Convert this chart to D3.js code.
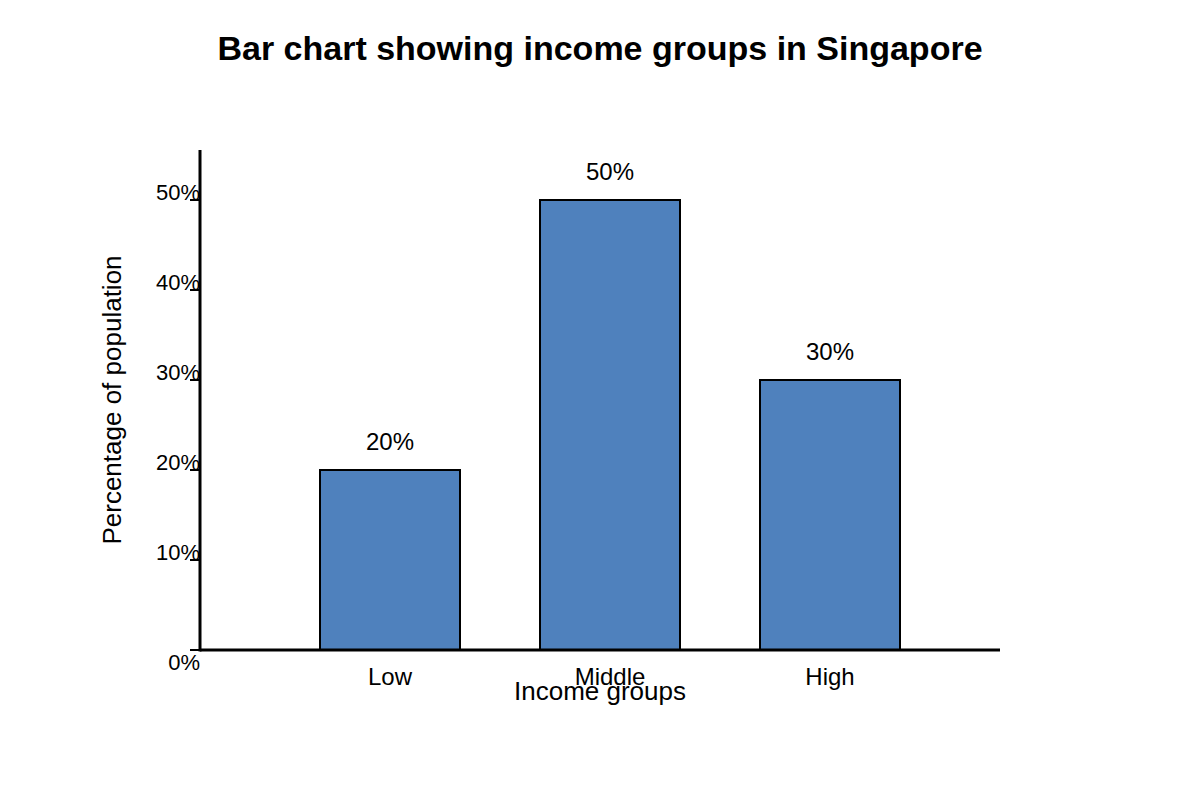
<!DOCTYPE html>
<html>
<head>
<meta charset="utf-8">
<script src="https://cdn.jsdelivr.net/npm/d3@7"></script>
<style>
  html, body { margin: 0; padding: 0; background: #fff; }
  svg { display: block; font-family: "Liberation Sans", Arial, sans-serif; }
</style>
</head>
<body>
<svg id="chart" width="1200" height="800"></svg>
<script>
const categories = ["Low", "Middle", "High"];
const values = [20, 50, 30];
const yTicks = [0, 10, 20, 30, 40, 50];
const titleText = "Bar chart showing income groups in Singapore";
const xTitle = "Income groups";
const yTitle = "Percentage of population";

const svg = d3.select("#chart");
const x0 = 200, x1 = 1000, yBottom = 650, yTop = 150;

const y = d3.scaleLinear().domain([0, 50]).range([yBottom, 200]);
const x = d3.scaleBand().domain(categories).range([280, 940])
  .paddingInner(4 / 11).paddingOuter(2 / 11);

// Title
svg.append("text").attr("x", 600).attr("y", 60).attr("text-anchor", "middle")
  .attr("font-size", 34).attr("font-weight", "bold").attr("fill", "#000")
  .text(titleText);

// Bars
svg.selectAll("rect.bar").data(values).join("rect")
  .attr("class", "bar")
  .attr("x", (d, i) => x(categories[i]))
  .attr("y", d => y(d))
  .attr("width", x.bandwidth())
  .attr("height", d => y(0) - y(d))
  .attr("fill", "#4f81bd").attr("stroke", "#000").attr("stroke-width", 2);

// Bar labels
svg.selectAll("text.val").data(values).join("text")
  .attr("class", "val")
  .attr("x", (d, i) => x(categories[i]) + x.bandwidth() / 2)
  .attr("y", d => y(d) - 20)
  .attr("text-anchor", "middle").attr("font-size", 24).attr("fill", "#000")
  .text(d => d + "%");

// Y ticks
const yt = svg.append("g");
yt.selectAll("line").data(yTicks).join("line")
  .attr("x1", 190).attr("x2", x0)
  .attr("y1", d => y(d)).attr("y2", d => y(d))
  .attr("stroke", "#000").attr("stroke-width", 2);
yt.selectAll("text").data(yTicks).join("text")
  .attr("x", x0).attr("y", d => d === 0 ? y(d) + 20 : y(d))
  .attr("text-anchor", "end").attr("font-size", 22).attr("fill", "#000")
  .text(d => d + "%");

// Axes lines
svg.append("line").attr("x1", x0).attr("x2", x0).attr("y1", yTop).attr("y2", yBottom + 1.5)
  .attr("stroke", "#000").attr("stroke-width", 3);
svg.append("line").attr("x1", x0).attr("x2", x1).attr("y1", yBottom).attr("y2", yBottom)
  .attr("stroke", "#000").attr("stroke-width", 3);

// X tick labels
svg.selectAll("text.cat").data(categories).join("text")
  .attr("class", "cat")
  .attr("x", d => x(d) + x.bandwidth() / 2).attr("y", 685)
  .attr("text-anchor", "middle").attr("font-size", 24).attr("fill", "#000")
  .text(d => d);

// Axis titles
svg.append("text").attr("x", 600).attr("y", 700).attr("text-anchor", "middle")
  .attr("font-size", 26).attr("fill", "#000").text(xTitle);
svg.append("text").attr("transform", "translate(121,400) rotate(-90)")
  .attr("text-anchor", "middle").attr("font-size", 26).attr("fill", "#000").text(yTitle);
</script>
</body>
</html>
